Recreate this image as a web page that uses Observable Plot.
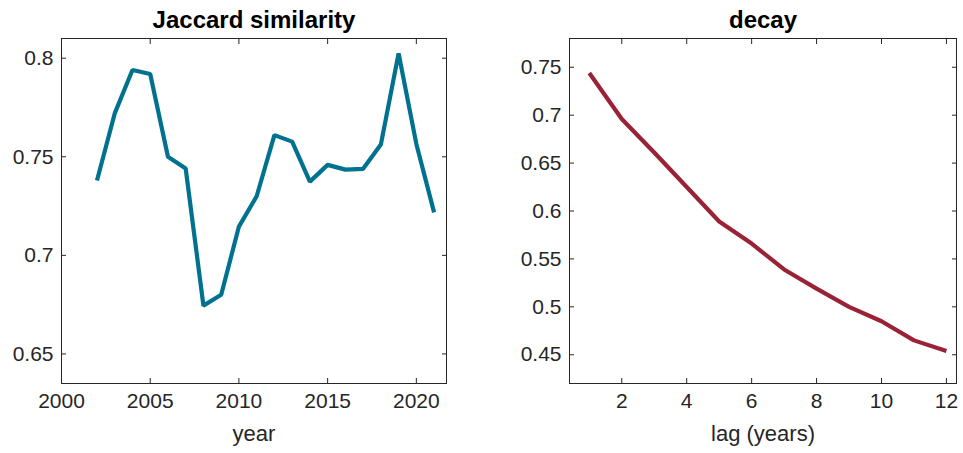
<!DOCTYPE html>
<html>
<head>
<meta charset="utf-8">
<script src="https://cdn.jsdelivr.net/npm/d3@7"></script>
<script src="https://cdn.jsdelivr.net/npm/@observablehq/plot@0.6"></script>
<style>
  html, body { margin: 0; padding: 0; background: #fff; }
  #wrap { position: relative; width: 963px; height: 453px; overflow: hidden; }
  #wrap > div { position: absolute; top: 0; }
  svg { overflow: visible; }
</style>
</head>
<body>
<div id="wrap"><div id="p1" style="left:0px"></div><div id="p2" style="left:480px"></div></div>
<script>
// ---- data ----
const years = [2002,2003,2004,2005,2006,2007,2008,2009,2010,2011,2012,2013,2014,2015,2016,2017,2018,2019,2020,2021];
const jaccard = [0.738,0.772,0.794,0.792,0.750,0.744,0.6745,0.680,0.7146,0.730,0.761,0.7577,0.7374,0.7459,0.7435,0.7439,0.7562,0.8025,0.7565,0.7218];
const lags = [1,2,3,4,5,6,7,8,9,10,11,12];
const decay = [0.744,0.696,0.661,0.625,0.589,0.566,0.539,0.519,0.500,0.485,0.465,0.454];
const yearTicks = [2000,2005,2010,2015,2020];
const jaccardTicks = [0.65,0.7,0.75,0.8];
const lagTicks = [2,4,6,8,10,12];
const decayTicks = [0.45,0.5,0.55,0.6,0.65,0.7,0.75];
const titles = ["Jaccard similarity", "decay"];
const xLabels = ["year", "lag (years)"];

const FONT = "'Liberation Sans', Arial, Helvetica, sans-serif";
const AX = "#262626";
const fmt = d => String(d);

function panel({data, xKey, yKey, xDomain, yDomain, xTicks, yTicks, color, title, xLabel, width, margins}) {
  return Plot.plot({
    width, height: 453,
    marginLeft: margins[0], marginRight: margins[1], marginTop: margins[2], marginBottom: margins[3],
    style: {fontFamily: FONT, fontSize: "21px", color: AX, background: "transparent", overflow: "visible"},
    x: {domain: xDomain, label: null},
    y: {domain: yDomain, label: null},
    marks: [
      Plot.frame({stroke: AX, strokeWidth: 1}),
      Plot.axisX(xTicks, {anchor: "bottom", tickSize: -5, tickPadding: 15, tickFormat: fmt, label: null, stroke: AX, fill: AX, fontSize: 21}),
      Plot.axisX(xTicks, {anchor: "top", tickSize: -5, tickFormat: () => "", label: null, stroke: AX}),
      Plot.axisY(yTicks, {anchor: "left", tickSize: -5, tickPadding: 13, tickFormat: fmt, label: null, stroke: AX, fill: AX, fontSize: 21}),
      Plot.axisY(yTicks, {anchor: "right", tickSize: -5, tickFormat: () => "", label: null, stroke: AX}),
      Plot.line(data, {x: xKey, y: yKey, stroke: color, strokeWidth: 4.2, strokeLinejoin: "miter", strokeLinecap: "butt"}),
      Plot.text([title], {frameAnchor: "top", lineAnchor: "bottom", dy: -11, fontWeight: "bold", fontSize: 24, fill: "#000"}),
      Plot.text([xLabel], {frameAnchor: "bottom", lineAnchor: "bottom", dy: 57, fontSize: 22, fill: AX})
    ]
  });
}

const jData = years.map((y, i) => ({year: y, value: jaccard[i]}));
const dData = lags.map((l, i) => ({lag: l, value: decay[i]}));

document.getElementById("p1").appendChild(panel({
  data: jData, xKey: "year", yKey: "value",
  xDomain: [2000, 2021.7], yDomain: [0.635, 0.81],
  xTicks: yearTicks, yTicks: jaccardTicks, color: "#00728F",
  title: titles[0], xLabel: xLabels[0], width: 480, margins: [61, 34, 38, 70]
}));
document.getElementById("p2").appendChild(panel({
  data: dData, xKey: "lag", yKey: "value",
  xDomain: [0.39, 12.31], yDomain: [0.42, 0.78],
  xTicks: lagTicks, yTicks: decayTicks, color: "#9A2236",
  title: titles[1], xLabel: xLabels[1], width: 483, margins: [89, 7, 38, 70]
}));
</script>
</body>
</html>
